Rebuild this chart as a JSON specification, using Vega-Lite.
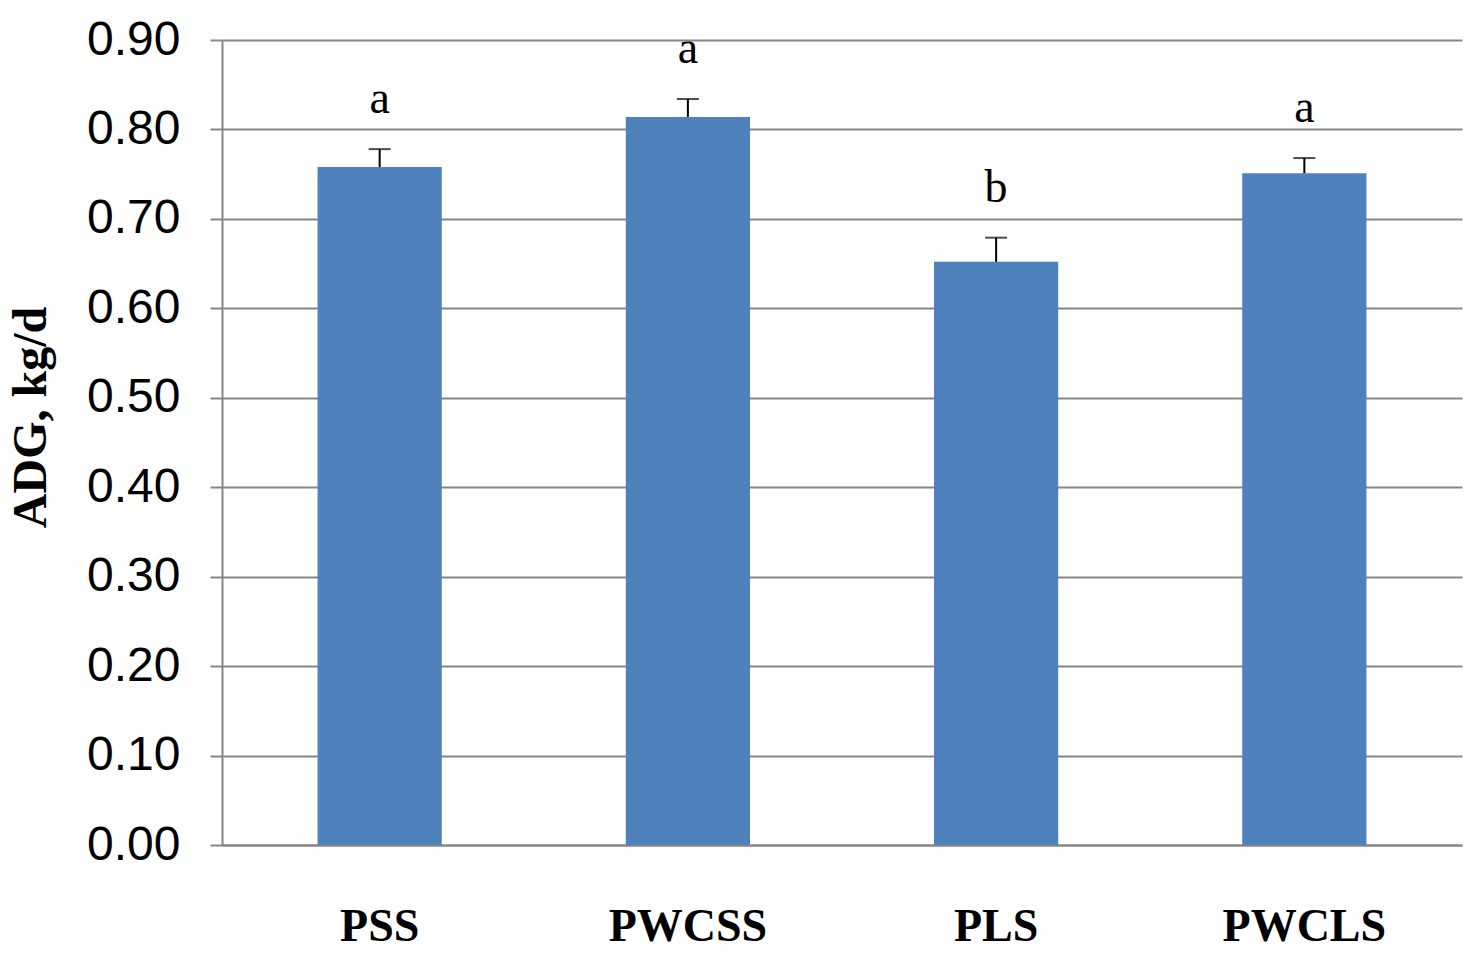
{
  "$schema": "https://vega.github.io/schema/vega-lite/v6.json",
  "width": 1240,
  "height": 805,
  "autosize": "none",
  "padding": {"left": 222, "top": 40, "right": 14, "bottom": 118},
  "background": "white",
  "config": {"view": {"stroke": null}},
  "data": {
    "values": [
      {"group": "PSS", "adg": 0.758, "upper": 0.778, "sig": "a"},
      {"group": "PWCSS", "adg": 0.814, "upper": 0.834, "sig": "a"},
      {"group": "PLS", "adg": 0.652, "upper": 0.679, "sig": "b"},
      {"group": "PWCLS", "adg": 0.751, "upper": 0.768, "sig": "a"}
    ]
  },
  "encoding": {
    "x": {
      "field": "group",
      "type": "nominal",
      "sort": null,
      "title": null,
      "scale": {"paddingInner": 0.597, "paddingOuter": 0.31},
      "axis": {
        "labelAngle": 0,
        "labelFont": "Liberation Serif",
        "labelFontWeight": "bold",
        "labelFontSize": 46,
        "labelColor": "black",
        "labelPadding": 59,
        "ticks": false,
        "domain": true,
        "domainColor": "#868686",
        "domainWidth": 2
      }
    }
  },
  "layer": [
    {
      "mark": {"type": "bar", "color": "#4F81BD"},
      "encoding": {
        "y": {
          "field": "adg",
          "type": "quantitative",
          "title": "ADG, kg/d",
          "scale": {"domain": [0, 0.9]},
          "axis": {
            "values": [0, 0.1, 0.2, 0.3, 0.4, 0.5, 0.6, 0.7, 0.8, 0.9],
            "format": ".2f",
            "labelFont": "Liberation Sans",
            "labelFontSize": 48,
            "labelColor": "black",
            "labelPadding": 30,
            "tickSize": 12,
            "tickWidth": 2,
            "tickColor": "#868686",
            "domainColor": "#868686",
            "domainWidth": 2,
            "grid": true,
            "gridColor": "#868686",
            "gridWidth": 2,
            "titleFont": "Liberation Serif",
            "titleFontWeight": "bold",
            "titleFontSize": 48,
            "titleColor": "black",
            "titleAngle": -90,
            "titleAlign": "center",
            "titleBaseline": "middle",
            "titleX": -191,
            "titleY": 377
          }
        }
      }
    },
    {
      "mark": {"type": "rule", "color": "black", "strokeWidth": 2},
      "encoding": {
        "y": {"field": "adg", "type": "quantitative"},
        "y2": {"field": "upper"}
      }
    },
    {
      "mark": {"type": "tick", "color": "black", "thickness": 2, "size": 22},
      "encoding": {
        "y": {"field": "upper", "type": "quantitative"}
      }
    },
    {
      "mark": {
        "type": "text",
        "font": "Liberation Serif",
        "fontSize": 46,
        "color": "black",
        "baseline": "alphabetic",
        "dy": -36
      },
      "encoding": {
        "y": {"field": "upper", "type": "quantitative"},
        "text": {"field": "sig"}
      }
    }
  ]
}
